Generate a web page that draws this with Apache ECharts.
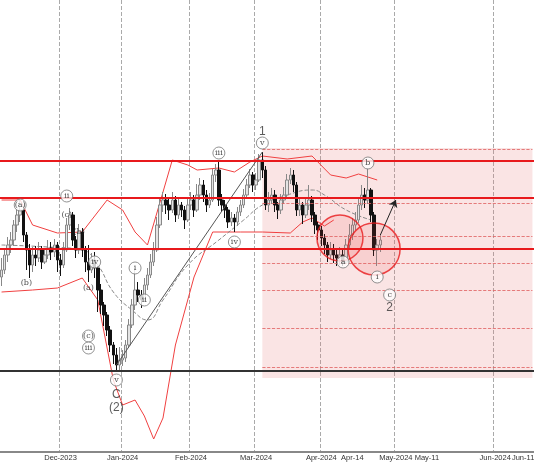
<!DOCTYPE html>
<html><head><meta charset="utf-8">
<script src="https://cdn.jsdelivr.net/npm/echarts@6/dist/echarts.min.js"></script>
<style>html,body{margin:0;background:#fff}#c{width:534px;height:462px}</style>
</head><body><div id="c"></div>
<script>
// candles: [open, close, low, high], one per trading slot
const candles = [
 [17.5,18.2,16.6,19.4],[18.2,19.7,17.8,20.3],[19.7,20.7,19.0,21.5],[20.7,21.2,19.9,22.0],[21.2,22.7,20.6,23.2],[22.7,23.7,22.0,24.3],
 [23.7,24.2,23.0,25.5],[24.2,21.7,21.0,24.6],[21.7,20.2,18.2,22.0],[20.2,18.7,17.4,20.8],[18.7,19.7,18.0,20.5],[19.7,19.4,18.6,20.6],
 [19.4,20.2,19.0,21.0],[20.2,19.0,18.3,20.6],[19.0,19.7,18.8,20.4],[19.7,20.4,19.3,21.2],[20.4,20.0,19.2,21.0],[20.0,20.7,19.5,21.3],
 [20.7,19.2,18.0,21.0],[19.2,18.7,17.6,19.8],[18.7,20.2,18.4,21.0],[20.2,22.7,20.0,23.4],[22.7,23.7,22.2,24.4],[23.7,21.2,20.6,24.0],
 [21.2,20.2,19.4,21.6],[20.2,22.0,19.8,22.8],[22.0,20.2,19.5,22.4],[20.2,19.0,18.0,20.6],[19.0,18.2,17.0,20.7],[18.2,19.2,17.9,19.9],
 [19.2,18.4,17.4,20.0],[18.4,16.2,14.0,18.6],[16.2,14.7,13.8,16.8],[14.7,13.7,12.6,15.0],[13.7,12.2,11.6,14.0],[12.2,10.7,10.0,12.6],
 [10.7,9.7,8.8,11.0],[9.7,8.7,8.0,10.4],[8.7,9.2,8.2,10.5],[9.2,9.4,8.6,10.2],[9.4,10.7,9.0,11.2],[10.7,12.7,10.4,13.3],
 [12.7,14.7,12.4,15.3],[14.7,16.2,14.2,18.4],[16.2,15.7,15.0,17.0],[15.7,15.2,14.4,16.2],[15.2,16.7,15.0,17.4],[16.7,17.7,16.2,18.4],
 [17.7,19.0,17.4,19.8],[19.0,20.2,18.6,21.0],[20.2,22.7,20.0,23.5],[22.7,24.7,22.4,25.5],[24.7,25.2,24.0,26.0],[25.2,24.7,23.8,25.8],
 [24.7,24.2,23.2,25.4],[24.2,25.2,23.9,26.0],[25.2,23.7,23.0,25.6],[23.7,24.7,23.3,25.3],[24.7,24.2,23.5,25.0],[24.2,23.2,22.3,24.6],
 [23.2,24.7,23.0,25.4],[24.7,25.2,24.2,26.0],[25.2,24.2,23.5,25.7],[24.2,25.7,24.0,26.8],[25.7,26.7,25.2,27.4],[26.7,25.7,25.0,27.2],
 [25.7,24.7,24.0,26.2],[24.7,25.2,24.4,25.9],[25.2,27.7,25.0,28.3],[27.7,28.2,27.0,28.8],[28.2,25.2,24.6,29.2],[25.2,24.7,24.0,25.8],
 [24.7,24.2,23.4,25.2],[24.2,23.0,22.4,24.5],[23.0,23.4,22.6,24.0],[23.4,23.0,22.0,23.8],[23.0,24.0,22.6,24.5],[24.0,24.7,23.6,25.2],
 [24.7,25.7,24.4,26.3],[25.7,26.7,25.3,27.3],[26.7,27.7,26.4,28.3],[27.7,26.7,26.0,28.0],[26.7,27.2,26.2,27.9],[27.2,29.2,27.0,29.8],
 [29.2,28.2,27.4,30.0],[28.2,24.7,24.2,28.6],[24.7,25.2,24.0,26.0],[25.2,25.7,24.8,26.4],[25.7,24.7,24.0,26.2],[24.7,24.2,23.3,25.0],
 [24.2,25.2,23.8,25.8],[25.2,25.7,24.8,26.5],[25.7,27.2,25.4,27.8],[27.2,27.7,26.8,28.4],[27.7,26.7,26.0,28.2],[26.7,24.2,23.6,27.0],
 [24.2,24.7,23.6,25.3],[24.7,23.7,22.8,25.0],[23.7,24.7,23.4,25.4],[24.7,25.2,24.2,26.7],[25.2,23.7,23.0,25.6],[23.7,22.7,21.8,24.0],
 [22.7,22.2,21.2,23.0],[22.2,21.4,20.6,22.6],[21.4,20.7,19.8,21.8],[20.7,19.7,19.0,21.0],[19.7,20.2,19.3,21.0],[20.2,19.7,18.9,20.8],
 [19.7,19.4,18.6,20.4],[19.4,19.7,18.7,20.5],[19.7,19.0,18.6,20.2],[19.0,20.7,18.8,21.3],[20.7,21.7,20.3,22.8],[21.7,22.7,21.2,23.4],
 [22.7,23.2,22.2,24.0],[23.2,24.7,22.9,25.5],[24.7,25.7,24.2,26.7],[25.7,25.2,24.4,26.4],[25.2,26.2,24.8,28.4],[26.2,23.7,23.0,26.4],
 [23.7,20.2,19.6,24.0],[20.2,20.7,18.6,21.3],[20.7,21.2,20.0,21.8]
];
const bbUpper = [[0,25.2],[6,25.2],[10,22.7],[18,21.9],[26,22.0],[34,25.2],[39,24.2],[43,22.0],[47,20.7],[52,26.0],[55,29.2],[60,28.7],[63,28.2],[70,28.4],[75,28.0],[80,29.0],[84,29.6],[92,29.3],[100,29.6],[106,27.7],[111,27.4],[115,27.8],[121,27.2]];
const bbLower = [[0,16.0],[10,16.2],[18,16.4],[26,17.4],[31,15.2],[36,7.2],[39,4.7],[43,5.2],[46,3.6],[49,1.3],[52,3.4],[56,10.7],[62,17.5],[68,22.0],[77,22.0],[84,22.0],[93,21.9],[97,23.0],[100,23.4],[104,22.6],[107,23.2]];
const bbMid = [[0,20.7],[15,20.5],[26,20.2],[31,18.7],[36,16.0],[42,14.2],[47,13.2],[52,15.2],[60,18.7],[70,21.2],[78,23.2],[84,24.7],[92,25.7],[100,26.2],[104,25.7],[111,24.2],[119,23.2]];
const labels = [[6,24.7,'(a)',1],[8,16.9,'(b)',0],[21,23.7,'(c)',0],[21,25.6,'ii',1],[25,22.0,'(b)',0],[28,16.4,'(a)',0],
 [30,19.0,'iv',1],[28,11.6,'(c)',1],[28,10.4,'iii',1],[37,7.2,'v',1],[43,18.4,'i',1],[46,15.2,'ii',1],[70,29.9,'iii',1],
 [75,21.0,'iv',1],[84,30.9,'v',1],[118,28.9,'b',1],[110,19.0,'a',1],[121,17.5,'i',1],[125,15.7,'c',1]];
const bigLabels = [[37,5.7,'C'],[37,4.4,'(2)'],[84,32.0,'1'],[125,14.4,'2']];
const redLevels = [29.1, 25.4, 20.3];
const blackLevel = 8.1;
const zoneLevels = [30.3, 24.9, 21.6, 18.9, 16.2, 12.4, 8.5];
const zoneBox = [84, 30.4, 7.4];
const circles = [[109,21.4,46],[120,20.3,52]];
const waveLine = [[37,8.7],[84,30.0]];
const arrowLine = [[122,21.7],[127,25.2]];
const monthTicks = {19:'Dec-2023',39:'Jan-2024',61:'Feb-2024',82:'Mar-2024',103:'Apr-2024',113:'Apr-14',127:'May-2024',137:'May-11',159:'Jun-2024',168:'Jun-11'};
const majorTicks = [19,39,61,82,103,127,159];
const nSlots = 172;

const cats = Array.from({length:nSlots},(_,i)=>monthTicks[i]||'');
const last = cats.length-1;
const clear = {color:'transparent',borderColor:'transparent'};
const chart = echarts.init(document.getElementById('c'));
chart.setOption({
  animation:false,
  grid:{left:0,right:0,top:0,bottom:10,containLabel:false,outerBoundsMode:'none'},
  xAxis:{type:'category',data:cats,boundaryGap:true,
    axisLine:{lineStyle:{color:'#888',width:2}},
    axisTick:{interval:(i,v)=>v!=='',lineStyle:{color:'#666'}},
    axisLabel:{interval:(i,v)=>v!=='',hideOverlap:false,fontSize:7.5,color:'#333',fontFamily:'Liberation Sans',margin:2},
    splitLine:{show:true,interval:(i)=>majorTicks.includes(i),lineStyle:{color:'#aaa',type:'dashed',width:1}}},
  yAxis:{type:'value',min:0,max:45.2,show:false,splitLine:{show:false}},
  series:[
    {type:'candlestick',data:candles,barWidth:3,
      itemStyle:{color:'#e4e4e4',color0:'#111',borderColor:'#888',borderColor0:'#111',borderWidth:1},
      markArea:{silent:true,itemStyle:{color:'rgba(230,120,120,0.2)'},
        data:[[{xAxis:zoneBox[0],yAxis:zoneBox[1]},{xAxis:last,yAxis:zoneBox[2]}]]},
      markLine:{silent:true,symbol:'none',label:{show:false},
        data:[
          ...zoneLevels.map(v=>[{xAxis:zoneBox[0],yAxis:v,lineStyle:{color:'#e06060',type:'dashed',width:0.8}},{xAxis:last,yAxis:v}]),
          ...redLevels.map(v=>({yAxis:v,lineStyle:{color:'#e8191c',type:'solid',width:2}})),
          {yAxis:blackLevel,lineStyle:{color:'#333',type:'solid',width:2}},
          [{coord:arrowLine[0],symbol:'none',lineStyle:{color:'#222',type:'solid',width:1}},{coord:arrowLine[1],symbol:'arrow',symbolSize:7}]
        ]}},
    {type:'line',data:bbUpper,symbol:'none',lineStyle:{color:'#f04040',width:1},z:1},
    {type:'line',data:bbLower,symbol:'none',lineStyle:{color:'#f04040',width:1},z:1},
    {type:'line',data:bbMid,symbol:'none',smooth:true,lineStyle:{color:'#888',width:1,type:'dashed'},z:1},
    {type:'line',data:waveLine,symbol:'none',lineStyle:{color:'#555',width:1}},
    {type:'scatter',data:circles.map(c=>[c[0],c[1],c[2]]),symbolSize:d=>d[2],
      itemStyle:{color:'rgba(240,60,60,0.15)',borderColor:'#e8191c',borderWidth:1.5},z:3},
    {type:'scatter',data:labels.map(l=>({value:[l[0],l[1]],label:{formatter:l[2]},
        itemStyle:l[3]?{}:clear})),
      symbolSize:12,itemStyle:{color:'#fff',borderColor:'#777',borderWidth:1},
      label:{show:true,position:'inside',fontSize:8,color:'#222',fontFamily:'DejaVu Serif'},z:5},
    {type:'scatter',data:bigLabels.map(l=>({value:[l[0],l[1]],label:{formatter:l[2]}})),symbolSize:12,
      itemStyle:clear,label:{show:true,position:'inside',fontSize:12,color:'#333',fontFamily:'Liberation Sans'},z:5}
  ]
});
</script></body></html>
